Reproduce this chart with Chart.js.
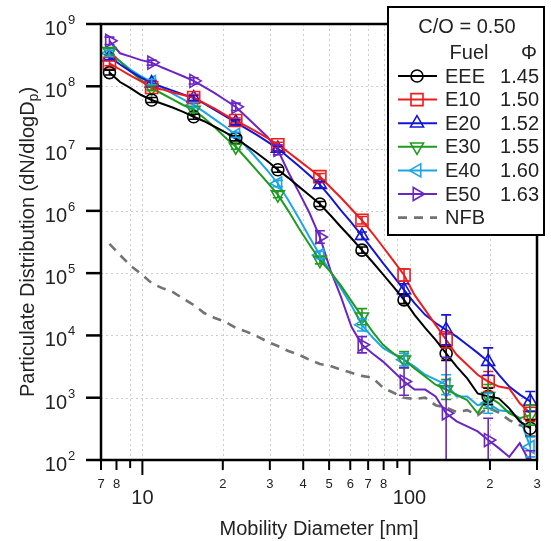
<!DOCTYPE html>
<html><head><meta charset="utf-8">
<script src="https://cdn.jsdelivr.net/npm/chart.js@4"></script>
<style>html,body{margin:0;padding:0;background:#fff}#wrap{width:551px;height:541px}</style>
</head><body><div id="wrap"><canvas id="c" width="551" height="541"></canvas></div>
<script>
// Mobility diameter bins [nm]
const diameters = [7.53, 8.25, 9.03, 9.89, 10.83, 11.86, 12.98, 14.21, 15.56, 17.03, 18.66, 20.43, 22.37, 24.49, 26.81, 29.35, 32.14, 35.19, 38.53, 42.19, 46.18, 50.57, 55.38, 60.61, 66.37, 72.67, 79.58, 87.13, 95.39, 104.4, 114.4, 125.2, 137.1, 150.1, 164.4, 179.9, 197.0, 215.8, 236.2, 258.6, 283.1];

const EEE = [1.66e8, 1.17e8, 9.33e7, 7.24e7, 6.03e7, 5.25e7, 4.57e7, 3.89e7, 3.24e7, 2.75e7, 2.24e7, 1.82e7, 1.46e7, 1.12e7, 8.51e6, 6.31e6, 4.57e6, 3.39e6, 2.45e6, 1.78e6, 1.29e6, 8.51e5, 5.50e5, 3.63e5, 2.34e5, 1.51e5, 9.55e4, 6.03e4, 3.72e4, 2.14e4, 1.32e4, 8.51e3, 5.13e3, 3.16e3, 2.04e3, 1.17e3, 1.05e3, 977, 676, 417, 324];
const E10 = [2.34e8, 1.86e8, 1.48e8, 1.20e8, 9.55e7, 8.91e7, 7.94e7, 7.24e7, 6.61e7, 5.37e7, 4.37e7, 3.47e7, 2.82e7, 2.29e7, 1.86e7, 1.48e7, 1.15e7, 8.71e6, 6.46e6, 4.79e6, 3.55e6, 2.40e6, 1.62e6, 1.07e6, 7.08e5, 4.37e5, 2.63e5, 1.58e5, 9.33e4, 4.47e4, 2.57e4, 1.48e4, 8.51e3, 4.90e3, 3.39e3, 2.34e3, 1.82e3, 1.51e3, 1.41e3, 813, 562];
const E20 = [2.95e8, 2.24e8, 1.74e8, 1.38e8, 1.12e8, 9.77e7, 8.51e7, 7.41e7, 6.46e7, 5.25e7, 4.17e7, 3.31e7, 2.63e7, 2.09e7, 1.66e7, 1.29e7, 1.00e7, 7.24e6, 5.25e6, 3.72e6, 2.63e6, 1.66e6, 1.02e6, 6.46e5, 3.98e5, 2.40e5, 1.45e5, 8.91e4, 5.37e4, 3.31e4, 2.14e4, 1.58e4, 1.23e4, 9.55e3, 7.08e3, 5.25e3, 3.80e3, 2.34e3, 1.51e3, 1.12e3, 871];
const E30 = [3.63e8, 2.51e8, 1.74e8, 1.26e8, 9.33e7, 7.59e7, 6.17e7, 5.01e7, 4.17e7, 3.09e7, 2.19e7, 1.51e7, 1.07e7, 6.92e6, 4.47e6, 2.88e6, 1.82e6, 1.00e6, 5.25e5, 2.88e5, 1.62e5, 1.05e5, 6.31e4, 3.55e4, 2.00e4, 1.15e4, 7.08e3, 5.13e3, 4.07e3, 2.95e3, 2.19e3, 1.62e3, 1.35e3, 1.12e3, 912, 562, 1.05e3, 813, 562, 468, 525];
const E40 = [3.39e8, 2.51e8, 1.86e8, 1.45e8, 1.17e8, 9.55e7, 7.59e7, 6.17e7, 5.01e7, 3.89e7, 2.95e7, 2.24e7, 1.66e7, 1.07e7, 6.92e6, 4.47e6, 2.75e6, 1.48e6, 7.59e5, 3.80e5, 1.95e5, 1.05e5, 5.75e4, 3.02e4, 1.48e4, 9.33e3, 6.31e3, 5.01e3, 4.07e3, 3.16e3, 2.34e3, 1.95e3, 1.62e3, 1.05e3, 1.05e3, 759, 813, 631, 603, 468, 162];
const E50 = [5.37e8, 3.39e8, 2.99e8, 2.63e8, 2.40e8, 2.00e8, 1.70e8, 1.45e8, 1.22e8, 9.77e7, 7.76e7, 6.03e7, 4.68e7, 3.24e7, 2.24e7, 1.55e7, 9.55e6, 4.17e6, 2.00e6, 9.33e5, 3.80e5, 1.12e5, 4.17e4, 1.38e4, 7.08e3, 5.13e3, 3.80e3, 2.63e3, 1.82e3, 1.35e3, 1.35e3, 1.05e3, 562, 417, 347, 288, 209, 155, 112, 186, 89];
const NFB = [2.95e5, 1.95e5, 1.32e5, 9.77e4, 6.92e4, 5.75e4, 5.01e4, 3.89e4, 3.09e4, 2.29e4, 1.91e4, 1.66e4, 1.32e4, 1.15e4, 9.77e3, 7.94e3, 6.76e3, 5.62e3, 4.90e3, 4.07e3, 3.47e3, 3.24e3, 2.82e3, 2.51e3, 2.24e3, 2.09e3, 1.45e3, 1.20e3, 1.00e3, 955, 1.00e3, 759, 692, 589, 631, 525, 692, 575, 437, 363, 339];

// error-bar half widths (decades) at the marker points (every 4th bin)
const errEEE = [0.04, 0.04, 0.04, 0.04, 0.04, 0.04, 0.05, 0.06, 0.11, 0.13, 0.13];
const errE10 = [0.04, 0.04, 0.05, 0.04, 0.04, 0.05, 0.06, 0.10, 0.13, 0.16, 0.13];
const errE20 = [0.04, 0.04, 0.04, 0.04, 0.04, 0.05, 0.06, 0.10, 0.24, 0.22, 0.16];
const errE30 = [0.05, 0.04, 0.04, 0.04, 0.05, 0.06, 0.13, 0.13, 0.16, 0.19, 0.16];
const errE40 = [0.05, 0.04, 0.04, 0.04, 0.05, 0.06, 0.10, 0.10, 0.16, 0.16, 0.16];
const errE50 = [0.06, 0.04, 0.05, 0.06, 0.08, 0.10, 0.13, 0.22, 0.90, 0.35, 0.20];

const fuels = ['EEE', 'E10', 'E20', 'E30', 'E40', 'E50', 'NFB'];
const phiValues = ['1.45', '1.50', '1.52', '1.55', '1.60', '1.63', ''];
const legendTitle = 'C/O = 0.50';
const xTickValues = [7, 8, 9, 10, 20, 30, 40, 50, 60, 70, 80, 90, 100, 200, 300];
const xTickLabels = ['7', '8', '', '10', '2', '3', '4', '5', '6', '7', '8', '', '100', '2', '3'];
const yTickExponents = [2, 3, 4, 5, 6, 7, 8, 9];
const xTitle = 'Mobility Diameter [nm]';
const yTitleMain = 'Particulate Distribution (dN/dlogD';
const yTitleSub = 'p';

const FONT = '"Liberation Sans", Arial, sans-serif';
const MARK_EVERY = 4;

const styles = [
  {color: '#000000', point: 'circle', rot: 0, r: 6, err: errEEE},
  {color: '#ee1c1c', point: 'rect', rot: 0, r: 8.5, err: errE10},
  {color: '#1515d8', point: 'triangle', rot: 0, r: 7.5, err: errE20},
  {color: '#1f9b1f', point: 'triangle', rot: 180, r: 7.5, err: errE30},
  {color: '#1ea5e8', point: 'triangle', rot: -90, r: 7.5, err: errE40},
  {color: '#6b25c4', point: 'triangle', rot: 90, r: 7.5, err: errE50},
  {color: '#737373', point: false, rot: 0, r: 0, err: null, dash: [9, 7]}
];
const seriesValues = [EEE, E10, E20, E30, E40, E50, NFB];

const datasets = seriesValues.map((vals, s) => {
  const st = styles[s];
  return {
    label: fuels[s],
    data: diameters.map((d, i) => ({x: d, y: vals[i]})),
    borderColor: st.color,
    borderWidth: s === 6 ? 2.6 : 2,
    borderDash: st.dash || [],
    pointStyle: st.point || 'circle',
    rotation: st.rot,
    pointRadius: st.point ? (ctx) => (ctx.dataIndex % MARK_EVERY === 0 ? st.r : 0) : 0,
    pointBorderColor: st.color,
    pointBackgroundColor: 'rgba(255,255,255,0)',
    pointBorderWidth: 1.6,
    tension: 0,
    fill: false
  };
});

function drawMarker(ctx, style, rot, x, y, r) {
  ctx.save();
  ctx.translate(x, y);
  ctx.rotate(rot * Math.PI / 180);
  ctx.beginPath();
  if (style === 'circle') {
    ctx.arc(0, 0, r, 0, Math.PI * 2);
  } else if (style === 'rect') {
    const s = r * Math.SQRT1_2;
    ctx.rect(-s, -s, 2 * s, 2 * s);
  } else if (style === 'triangle') {
    for (let k = 0; k < 3; k++) {
      const a = k * 2 * Math.PI / 3;
      const px = Math.sin(a) * r, py = -Math.cos(a) * r;
      if (k === 0) ctx.moveTo(px, py); else ctx.lineTo(px, py);
    }
    ctx.closePath();
  }
  ctx.stroke();
  ctx.restore();
}

const custom = {
  id: 'custom',
  beforeDatasetsDraw(chart) {
    const {ctx, chartArea: a, scales: {x, y}} = chart;
    ctx.save();
    ctx.strokeStyle = '#cdcdcd';
    ctx.lineWidth = 1;
    ctx.setLineDash([2, 3]);
    xTickValues.forEach(v => {
      if (v === 7 || v === 8 || v === 300) return;
      const px = Math.round(x.getPixelForValue(v)) + 0.5;
      ctx.beginPath(); ctx.moveTo(px, a.top); ctx.lineTo(px, a.bottom); ctx.stroke();
    });
    yTickExponents.forEach(e => {
      if (e === 2 || e === 9) return;
      const py = Math.round(y.getPixelForValue(Math.pow(10, e))) + 0.5;
      ctx.beginPath(); ctx.moveTo(a.left, py); ctx.lineTo(a.right, py); ctx.stroke();
    });
    ctx.restore();
  },
  afterDatasetsDraw(chart) {
    const {ctx, chartArea: a, scales: {x, y}} = chart;
    ctx.save();
    ctx.beginPath(); ctx.rect(a.left, a.top, a.right - a.left, a.bottom - a.top); ctx.clip();
    ctx.lineWidth = 1.6;
    styles.forEach((st, s) => {
      if (!st.err) return;
      const vals = seriesValues[s];
      ctx.strokeStyle = st.color;
      st.err.forEach((e, k) => {
        const i = k * MARK_EVERY;
        const px = x.getPixelForValue(diameters[i]);
        const yTop = y.getPixelForValue(vals[i] * Math.pow(10, e));
        const yBot = Math.min(a.bottom + 5, y.getPixelForValue(vals[i] / Math.pow(10, e)));
        ctx.beginPath();
        ctx.moveTo(px, yTop); ctx.lineTo(px, yBot);
        ctx.moveTo(px - 5, yTop); ctx.lineTo(px + 5, yTop);
        ctx.moveTo(px - 5, yBot); ctx.lineTo(px + 5, yBot);
        ctx.stroke();
      });
    });
    ctx.restore();
  },
  afterDraw(chart) {
    const {ctx, chartArea: a, scales: {x, y}} = chart;
    ctx.save();
    // frame
    ctx.strokeStyle = '#000';
    ctx.lineWidth = 2.5;
    ctx.strokeRect(a.left, a.top, a.right - a.left, a.bottom - a.top);
    // y ticks + labels
    ctx.fillStyle = '#222';
    yTickExponents.forEach(e => {
      const py = y.getPixelForValue(Math.pow(10, e));
      ctx.beginPath(); ctx.moveTo(a.left - 15, py); ctx.lineTo(a.left, py); ctx.stroke();
      ctx.font = '20px ' + FONT;
      ctx.textAlign = 'right'; ctx.textBaseline = 'alphabetic';
      ctx.fillText('10', a.left - 34, py + 11);
      ctx.font = '13px ' + FONT;
      ctx.textAlign = 'left';
      ctx.fillText(String(e), a.left - 33, py);
    });
    // x ticks + labels
    ctx.lineWidth = 2;
    xTickValues.forEach((v, k) => {
      const px = x.getPixelForValue(v);
      const lab = xTickLabels[k];
      const major = (v === 10 || v === 100);
      const len = major ? 15 : (lab === '' ? 8 : 10);
      ctx.beginPath(); ctx.moveTo(px, a.bottom); ctx.lineTo(px, a.bottom + len); ctx.stroke();
      ctx.textAlign = 'center'; ctx.textBaseline = 'alphabetic';
      if (major) {
        ctx.font = '20px ' + FONT;
        ctx.fillText(lab, px, 504);
      } else if (lab) {
        ctx.font = '13px ' + FONT;
        ctx.fillText(lab, px, 488);
      }
    });
    // axis titles
    ctx.font = '20px ' + FONT;
    ctx.textAlign = 'center';
    ctx.fillText(xTitle, (a.left + a.right) / 2, 535);
    ctx.save();
    ctx.translate(34, (a.top + a.bottom) / 2);
    ctx.rotate(-Math.PI / 2);
    ctx.font = '20px ' + FONT;
    const w1 = ctx.measureText(yTitleMain).width;
    ctx.font = '14px ' + FONT;
    const w2 = ctx.measureText(yTitleSub).width;
    ctx.font = '20px ' + FONT;
    const w3 = ctx.measureText(')').width;
    let sx = -(w1 + w2 + w3) / 2;
    ctx.textAlign = 'left';
    ctx.fillText(yTitleMain, sx, 0);
    ctx.font = '14px ' + FONT;
    ctx.fillText(yTitleSub, sx + w1, 4);
    ctx.font = '20px ' + FONT;
    ctx.fillText(')', sx + w1 + w2, 0);
    ctx.restore();
    // legend
    const L = {x: 388, y: 7, w: 156, h: 228};
    ctx.fillStyle = '#fff';
    ctx.fillRect(L.x, L.y, L.w, L.h);
    ctx.strokeStyle = '#000';
    ctx.lineWidth = 2;
    ctx.strokeRect(L.x, L.y, L.w, L.h);
    ctx.fillStyle = '#222';
    ctx.font = '20px ' + FONT;
    ctx.textAlign = 'center'; ctx.textBaseline = 'middle';
    ctx.fillText(legendTitle, 467, 27);
    ctx.fillText('Fuel', 469, 53);
    ctx.fillText('\u03A6', 529, 53);
    fuels.forEach((name, k) => {
      const ry = 76 + k * 23.6;
      const st = styles[k];
      ctx.strokeStyle = st.color;
      ctx.lineWidth = k === 6 ? 2.6 : 2;
      ctx.setLineDash(st.dash || []);
      ctx.beginPath(); ctx.moveTo(398, ry); ctx.lineTo(437, ry); ctx.stroke();
      ctx.setLineDash([]);
      if (st.point) { ctx.lineWidth = 1.6; drawMarker(ctx, st.point, st.rot, 417, ry, st.r); }
      ctx.fillStyle = '#222';
      ctx.textAlign = 'left';
      ctx.fillText(name, 445, ry + 1);
      ctx.textAlign = 'right';
      if (phiValues[k]) ctx.fillText(phiValues[k], 539, ry + 1);
    });
    ctx.restore();
  }
};

new Chart(document.getElementById('c'), {
  type: 'line',
  data: {datasets},
  options: {
    responsive: false,
    animation: false,
    devicePixelRatio: 1,
    layout: {padding: {left: 101, top: 24, right: 14, bottom: 81}},
    plugins: {legend: {display: false}, tooltip: {enabled: false}},
    scales: {
      x: {type: 'logarithmic', min: 7, max: 300, display: false},
      y: {type: 'logarithmic', min: 100, max: 1e9, display: false}
    }
  },
  plugins: [custom]
});
</script>
</body></html>
